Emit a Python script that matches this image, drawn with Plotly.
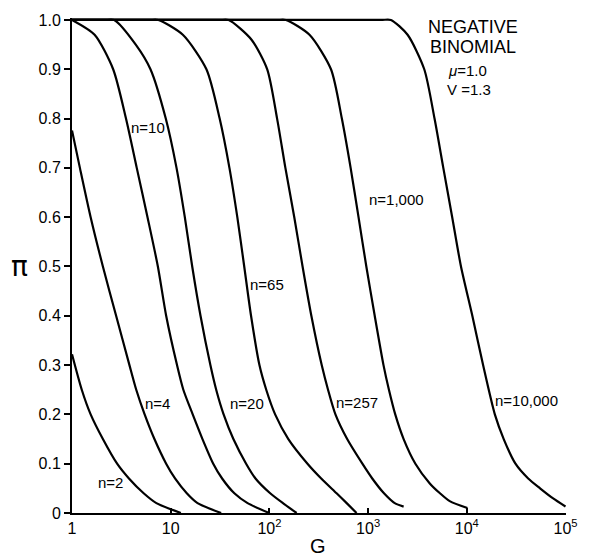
import plotly.graph_objects as go

# ---- data: log10(G) and pi for each curve ----
n_labels = ["n=2", "n=4", "n=10", "n=20", "n=65", "n=257", "n=1,000", "n=10,000"]

log_g_n2 = [0, 0.099, 0.189, 0.313, 0.457, 0.577, 0.726, 0.855, 1.103]
pi_n2 = [0.322, 0.25, 0.20, 0.15, 0.10, 0.07, 0.04, 0.02, 0.0]

log_g_n4 = [0, 0.080, 0.189, 0.313, 0.447, 0.582, 0.651, 0.736, 0.835, 0.954, 1.044, 1.163, 1.272, 1.511]
pi_n4 = [0.776, 0.70, 0.60, 0.50, 0.40, 0.30, 0.25, 0.20, 0.15, 0.10, 0.07, 0.04, 0.02, 0.0]

log_g_n10 = [0, 0.229, 0.417, 0.547, 0.656, 0.765, 0.870, 0.954, 1.064, 1.128, 1.223, 1.322, 1.431, 1.521, 1.645, 1.779, 1.998]
pi_n10 = [1.0, 0.97, 0.90, 0.80, 0.70, 0.60, 0.50, 0.40, 0.30, 0.25, 0.20, 0.15, 0.10, 0.07, 0.04, 0.02, 0.0]

log_g_n20 = [0, 0.33, 0.427, 0.646, 0.795, 0.950, 1.059, 1.143, 1.218, 1.302, 1.402, 1.461, 1.536, 1.635, 1.764, 1.859, 2.008, 2.137, 2.276]
pi_n20 = [1.0, 1.0, 1.0, 0.95, 0.90, 0.80, 0.70, 0.60, 0.50, 0.40, 0.30, 0.25, 0.20, 0.15, 0.10, 0.07, 0.04, 0.02, 0.0]

log_g_n65 = [0, 0.78, 0.875, 1.123, 1.362, 1.496, 1.595, 1.675, 1.745, 1.814, 1.899, 1.968, 2.058, 2.192, 2.386, 2.525, 2.681, 2.783, 2.883]
pi_n65 = [1.0, 1.0, 1.0, 0.97, 0.90, 0.80, 0.70, 0.60, 0.50, 0.40, 0.30, 0.25, 0.20, 0.15, 0.10, 0.07, 0.04, 0.02, 0.0]

log_g_n257 = [0, 1.49, 1.587, 1.819, 1.978, 2.078, 2.162, 2.252, 2.336, 2.425, 2.530, 2.594, 2.669, 2.788, 2.942, 3.042, 3.161, 3.270, 3.360]
pi_n257 = [1.0, 1.0, 1.0, 0.96, 0.90, 0.80, 0.70, 0.60, 0.50, 0.40, 0.30, 0.25, 0.20, 0.15, 0.10, 0.07, 0.04, 0.02, 0.013]

log_g_n1000 = [0, 2.07, 2.167, 2.406, 2.624, 2.734, 2.823, 2.903, 2.982, 3.067, 3.156, 3.211, 3.275, 3.360, 3.479, 3.625, 3.728, 3.827, 4.006]
pi_n1000 = [1.0, 1.0, 1.0, 0.97, 0.90, 0.80, 0.70, 0.60, 0.50, 0.40, 0.30, 0.25, 0.20, 0.15, 0.10, 0.06, 0.04, 0.024, 0.010]

log_g_n10000 = [0, 3.13, 3.231, 3.400, 3.569, 3.673, 3.762, 3.852, 3.941, 4.056, 4.165, 4.284, 4.374, 4.493, 4.622, 4.742, 4.871, 5.0]
pi_n10000 = [1.0, 1.0, 1.0, 0.97, 0.90, 0.80, 0.70, 0.60, 0.50, 0.40, 0.30, 0.20, 0.15, 0.10, 0.07, 0.05, 0.03, 0.013]

x_tickvals = [1, 10, 100, 1000, 10000, 100000]
x_ticktext = ["1", "10", "10<sup>2</sup>", "10<sup>3</sup>", "10<sup>4</sup>", "10<sup>5</sup>"]
y_tickvals = [0, 0.1, 0.2, 0.3, 0.4, 0.5, 0.6, 0.7, 0.8, 0.9, 1.0]
y_ticktext = ["0", "0.1", "0.2", "0.3", "0.4", "0.5", "0.6", "0.7", "0.8", "0.9", "1.0"]

series = [(log_g_n2, pi_n2), (log_g_n4, pi_n4), (log_g_n10, pi_n10), (log_g_n20, pi_n20),
          (log_g_n65, pi_n65), (log_g_n257, pi_n257), (log_g_n1000, pi_n1000),
          (log_g_n10000, pi_n10000)]

FONT = "Liberation Sans"

fig = go.Figure()
for (lg, p), name in zip(series, n_labels):
    g = [10 ** v for v in lg]
    fig.add_trace(go.Scatter(x=g, y=p, mode="lines", name=name,
                             line=dict(color="black", width=2.2, shape="spline", smoothing=0.7),
                             showlegend=False, hoverinfo="skip"))

# curve labels (x in log10 G, y in pi)
label_pos = [(0.388, 0.0625), (0.865, 0.222), (0.77, 0.782), (1.769, 0.222),
             (1.978, 0.464), (2.883, 0.224), (3.29, 0.635), (4.602, 0.228)]
annotations = []
for name, (lx, ly) in zip(n_labels, label_pos):
    annotations.append(dict(x=lx, y=ly, xref="x", yref="y", text=name, showarrow=False,
                            font=dict(family=FONT, size=15, color="black"),
                            xanchor="center", yanchor="middle"))

for txt, lx, ly, sz in [("NEGATIVE", 4.066, 0.986, 18), ("BINOMIAL", 4.066, 0.946, 18),
                        ("<i>μ</i>=1.0", 4.006, 0.897, 15), ("V =1.3", 4.026, 0.860, 15)]:
    annotations.append(dict(x=lx, y=ly, xref="x", yref="y", text=txt, showarrow=False,
                            font=dict(family=FONT, size=sz, color="black"),
                            xanchor="center", yanchor="middle"))

# axis titles (paper coordinates, outside the plotting area)
annotations.append(dict(x=-0.107, y=0.498, xref="paper", yref="paper", text="π", showarrow=False,
                        font=dict(family="DejaVu Sans", size=28, color="black"),
                        xanchor="center", yanchor="middle"))
annotations.append(dict(x=0.497, y=-0.066, xref="paper", yref="paper", text="G", showarrow=False,
                        font=dict(family=FONT, size=20, color="black"),
                        xanchor="center", yanchor="middle"))

fig.update_layout(
    width=590, height=560,
    margin=dict(l=72, r=15, t=15, b=47),
    paper_bgcolor="white", plot_bgcolor="white",
    annotations=annotations,
    xaxis=dict(type="log", range=[0, 5.005], tickvals=x_tickvals, ticktext=x_ticktext,
               showgrid=False, zeroline=False, showline=True, linecolor="black", linewidth=2,
               ticks="inside", ticklen=5, tickwidth=1.5, tickcolor="black",
               tickfont=dict(family=FONT, size=16, color="black")),
    yaxis=dict(range=[0, 1.004], tickvals=y_tickvals, ticktext=y_ticktext,
               showgrid=False, zeroline=False, showline=True, linecolor="black", linewidth=2,
               ticks="outside", ticklen=6, tickwidth=1.5, tickcolor="black",
               tickfont=dict(family=FONT, size=16, color="black")),
)

fig.write_html("out.html", config={"displayModeBar": False},
               post_script="document.body.style.margin='0';document.body.style.overflow='hidden';")
